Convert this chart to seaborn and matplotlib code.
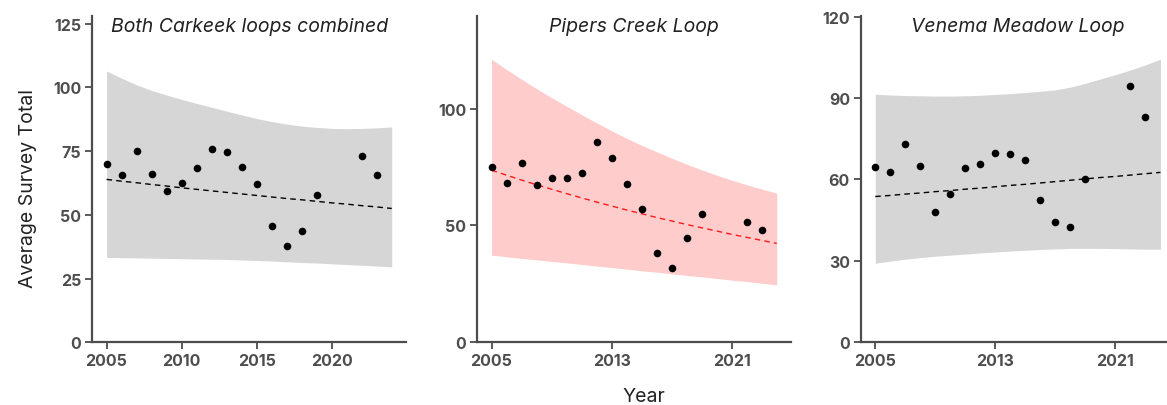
import numpy as np
import pandas as pd
import matplotlib
matplotlib.use("Agg")
import matplotlib.pyplot as plt
import seaborn as sns

sns.set_style("ticks")
plt.rcParams["font.family"] = ["Inter", "DejaVu Sans"]

# Survey years with observations and annual averages per loop
obs_years = [2005, 2006, 2007, 2008, 2009, 2010, 2011, 2012, 2013, 2014,
             2015, 2016, 2017, 2018, 2019, 2022, 2023]
combined_totals = [70.0, 65.7, 75.0, 66.1, 59.2, 62.5, 68.3, 75.9, 74.6, 68.7,
                   62.2, 45.5, 37.9, 43.5, 57.6, 73.1, 65.6]
pipers_totals = [75.2, 68.2, 76.6, 67.1, 70.2, 70.3, 72.4, 85.9, 78.8, 67.8,
                 57.0, 38.2, 31.6, 44.6, 55.0, 51.4, 48.0]
venema_totals = [64.6, 62.8, 72.9, 65.0, 48.1, 54.7, 64.2, 65.5, 69.9, 69.2,
                 67.1, 52.5, 44.2, 42.3, 60.1, 94.3, 82.9]

# Modelled trend and prediction band, one value per year 2005-2024
fit_years = list(range(2005, 2025))
combined_fit = [63.9, 63.2, 62.6, 61.9, 61.3, 60.6, 60.0, 59.4, 58.8, 58.2,
                57.6, 57.0, 56.4, 55.9, 55.3, 54.7, 54.2, 53.6, 53.1, 52.5]
combined_lo = [33.3, 33.2, 33.1, 33.0, 32.9, 32.8, 32.7, 32.6, 32.5, 32.3,
               32.1, 31.9, 31.6, 31.3, 31.1, 30.8, 30.5, 30.2, 29.9, 29.6]
combined_hi = [106.4, 103.6, 101.0, 98.8, 97.0, 95.3, 93.7, 92.2, 90.7, 89.2,
               87.8, 86.6, 85.6, 84.8, 84.3, 83.9, 83.8, 83.9, 84.1, 84.5]

pipers_fit = [73.6, 71.5, 69.4, 67.4, 65.5, 63.6, 61.8, 60.0, 58.3, 56.6,
              55.0, 53.4, 51.9, 50.4, 49.0, 47.6, 46.2, 44.9, 43.6, 42.3]
pipers_lo = [37.3, 36.6, 35.9, 35.3, 34.6, 34.0, 33.3, 32.6, 32.0, 31.3,
             30.6, 30.0, 29.3, 28.6, 28.0, 27.3, 26.6, 26.0, 25.3, 24.6]
pipers_hi = [121.1, 116.7, 112.5, 108.5, 104.7, 101.0, 97.4, 93.9, 90.5, 87.3,
             84.3, 81.5, 78.8, 76.2, 73.8, 71.5, 69.4, 67.4, 65.6, 63.8]

venema_fit = [53.7, 54.1, 54.6, 55.0, 55.5, 55.9, 56.4, 56.8, 57.3, 57.8,
              58.2, 58.7, 59.2, 59.7, 60.2, 60.7, 61.1, 61.6, 62.1, 62.6]
venema_lo = [29.1, 29.9, 30.6, 31.2, 31.7, 32.1, 32.5, 32.9, 33.3, 33.6,
             33.9, 34.2, 34.4, 34.6, 34.6, 34.6, 34.5, 34.4, 34.3, 34.3]
venema_hi = [91.4, 91.1, 90.9, 90.8, 90.7, 90.7, 90.8, 91.0, 91.3, 91.6,
             92.0, 92.5, 93.0, 94.0, 95.4, 97.0, 98.6, 100.3, 102.2, 104.3]

panel_titles = ["Both Carkeek loops combined", "Pipers Creek Loop", "Venema Meadow Loop"]
x_ticks = [[2005, 2010, 2015, 2020], [2005, 2013, 2021], [2005, 2013, 2021]]
y_ticks = [[0, 25, 50, 75, 100, 125], [0, 50, 100], [0, 30, 60, 90, 120]]
y_tops = [128.0, 139.6, 120.2]

panels = [
    (combined_totals, combined_fit, combined_lo, combined_hi, "#d6d6d6", "black"),
    (pipers_totals, pipers_fit, pipers_lo, pipers_hi, "#ffcccc", "#ff1a1a"),
    (venema_totals, venema_fit, venema_lo, venema_hi, "#d6d6d6", "black"),
]

W, H = 1167, 406
fig = plt.figure(figsize=(W / 100, H / 100), dpi=100)

ax_left = [92.3, 477.3, 861.0]
ax_w = 313.7
ax_top, ax_bot = 17.0, 343.3

axis_grey = "#4d4d4d"
for i, (tot, fit, lo, hi, band, line_col) in enumerate(panels):
    ax = fig.add_axes([ax_left[i] / W, (H - ax_bot) / H, ax_w / W, (ax_bot - ax_top) / H])
    ax.fill_between(fit_years, lo, hi, color=band, linewidth=0, zorder=1)
    trend = pd.DataFrame({"Year": fit_years, "fit": fit})
    sns.lineplot(data=trend, x="Year", y="fit", ax=ax, color=line_col,
                 linewidth=1.0, dashes=False, zorder=2)
    ax.lines[-1].set_dashes((4, 3))
    pts = pd.DataFrame({"Year": obs_years, "total": tot})
    sns.scatterplot(data=pts, x="Year", y="total", ax=ax, color="black",
                    s=30, linewidth=0, zorder=3)
    ax.set_xlim(2004.05, 2024.95)
    ax.set_ylim(0, y_tops[i])
    ax.set_xticks(x_ticks[i])
    ax.set_yticks(y_ticks[i])
    ax.set_xlabel("")
    ax.set_ylabel("")
    for side in ("top", "right"):
        ax.spines[side].set_visible(False)
    for side in ("left", "bottom"):
        ax.spines[side].set_color(axis_grey)
        ax.spines[side].set_linewidth(1.6)
    ax.tick_params(axis="both", colors=axis_grey, width=1.3, length=5, pad=3,
                   labelsize=11.5)
    for lab in ax.get_xticklabels() + ax.get_yticklabels():
        lab.set_fontweight("bold")
        lab.set_color(axis_grey)
    ax.text(0.5, (ax_bot - 32.3) / (ax_bot - ax_top), panel_titles[i],
            transform=ax.transAxes, ha="center", va="baseline",
            fontsize=14, fontstyle="italic", color="#222222")

fig.text(28 / W, 1 - 188 / H, "Average Survey Total", rotation=90,
         ha="center", va="center", fontsize=14, color="#222222")
fig.text(644 / W, 1 - 397 / H, "Year", ha="center", va="center",
         fontsize=14, color="#222222")

fig.savefig("out.png", dpi=100)
